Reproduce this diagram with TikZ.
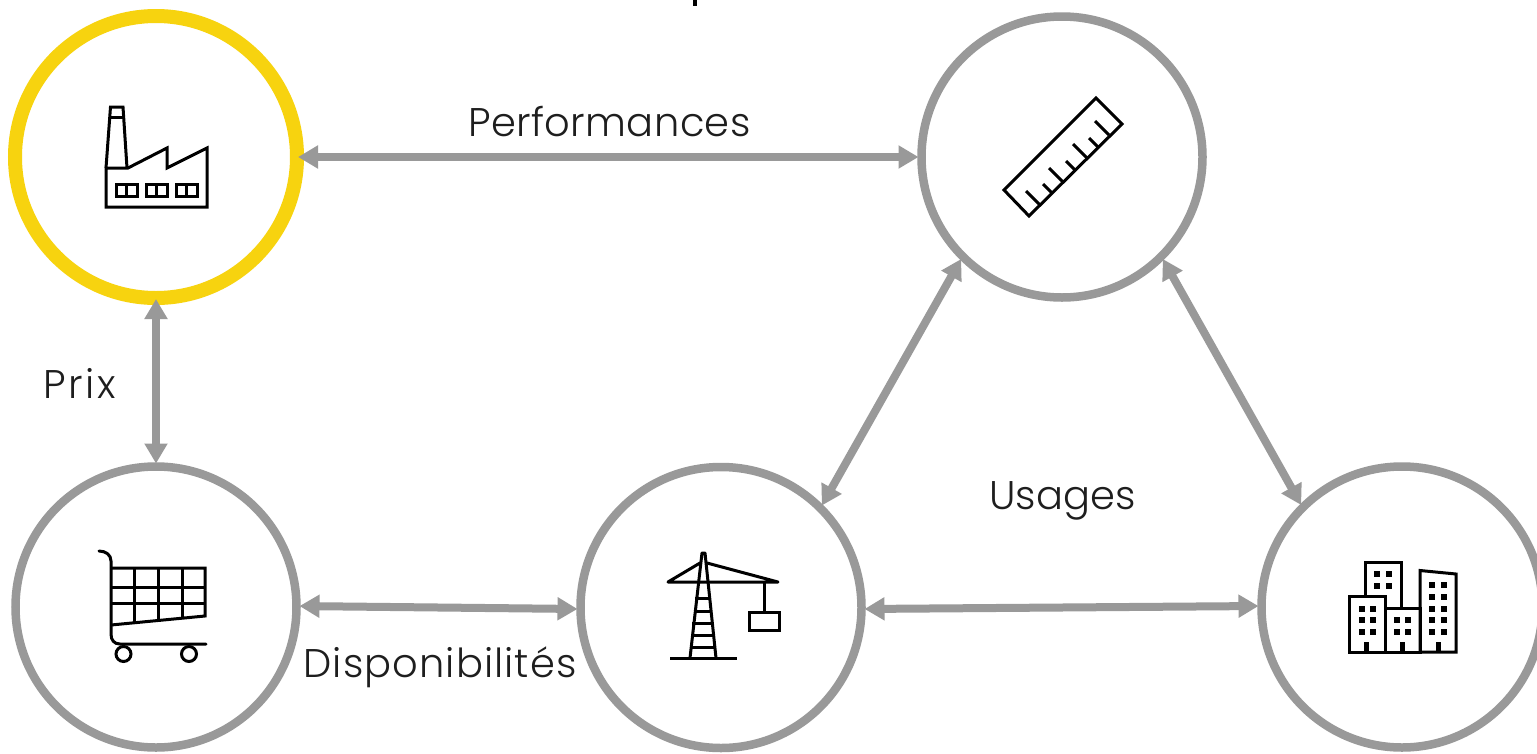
\documentclass[tikz,border=0pt]{standalone}
\usepackage{fontspec}
\setmainfont{Poppins Light}
\usetikzlibrary{arrows.meta}
\definecolor{ringgrey}{HTML}{999999}
\definecolor{ringyellow}{HTML}{F7D30F}
\definecolor{labelink}{HTML}{1E1E1E}
\tikzset{
  ring/.style={circle,draw=ringgrey,line width=8.5pt,minimum size=281pt,inner sep=0pt,outer sep=0pt},
  yellowring/.style={circle,draw=ringyellow,line width=14pt,minimum size=282pt,inner sep=0pt,outer sep=0pt},
  link/.style={draw=ringgrey,line width=8pt,{Triangle[length=20pt,width=22pt]}-{Triangle[length=20pt,width=22pt]},shorten <=3pt,shorten >=3pt},
  lab/.style={anchor=base,text=labelink,font=\fontsize{40}{46}\selectfont,inner sep=0pt},
  icon/.style={draw=black,line width=3pt,line join=miter},
  win/.style={fill=black,draw=none},
}
\begin{document}
\begin{tikzpicture}[x=1pt,y=-1pt]
\useasboundingbox (0,0) rectangle (1537,753);
\fill[white] (0,0) rectangle (1537,753);
\clip (0,0) rectangle (1537,753);
\draw[black,line width=4pt] (695,0) -- (695,6);

\node[yellowring] (factory) at (156,157) {};
\node[ring] (ruler) at (1062,157) {};
\node[ring] (cart) at (156,607) {};
\node[ring] (crane) at (721,607.5) {};
\node[ring] (city) at (1402,607) {};

\draw[link,shorten <=1pt] (factory.east) -- (ruler.west);
\draw[link,shorten <=1pt] (factory.south) -- (cart.north);
\draw[link] ([yshift=1pt]cart.east) -- ([yshift=-1.5pt]crane.west);
\draw[link] ([yshift=-1.5pt]crane.east) -- ([yshift=1pt]city.west);
\draw[link] (ruler.225) -- (crane.45);
\draw[link] (ruler.315) -- (city.135);

\node[lab] (lperf) at (609.5,136) {\addfontfeature{LetterSpace=0.9}Performances};
\node[lab] (lprix) at (79.5,398) {\addfontfeature{LetterSpace=6}Prix};
\node[lab] (ldisp) at (440,677) {\addfontfeature{LetterSpace=2.7}Disponibilités};
\node[lab] (lusag) at (1062.5,509) {Usages};

% factory icon
\draw[icon] (106,168) -- (106,207) -- (207,207) -- (207,148) -- (167,168) -- (167,148) -- (128,168) -- cycle;
\draw[icon] (106,168) -- (110.5,107) -- (123,107) -- (127,168);
\draw[icon] (109.5,117) -- (124,117);
\foreach \a in {116,146,176}{
  \draw[icon] (\a,184) rectangle (\a+21,196);
  \draw[icon] (\a+10.5,184) -- (\a+10.5,196);
}

% ruler icon
\draw[icon] (1096,98) -- (1122,124) -- (1029,216) -- (1004,190) -- cycle;
\draw[icon] (1040,205) -- (1026,191);
\draw[icon] (1052,193) -- (1043,184);
\draw[icon] (1063,182) -- (1049,168);
\draw[icon] (1075,170) -- (1066,161);
\draw[icon] (1087,158) -- (1073,144);
\draw[icon] (1098,147) -- (1089,138);
\draw[icon] (1109,135) -- (1095,121);

% cart icon
\draw[icon,line cap=round] (99,551) .. controls (106,551) and (111,555) .. (111,561) -- (111,634) .. controls (111,640) and (114,644) .. (120,644) -- (206,644);
\draw[icon] (111,568) -- (205,568) -- (205,616) -- (111,625);
\draw[icon] (111,587) -- (205,587);
\draw[icon] (111,603) -- (205,603);
\draw[icon] (134,568) -- (134,623);
\draw[icon] (158,568) -- (158,621);
\draw[icon] (182,568) -- (182,618);
\draw[icon] (123.5,654) circle (7.5);
\draw[icon] (189,654) circle (7.5);

% crane icon
\draw[icon] (670,658) -- (737,658);
\draw[icon,line join=round] (690,658) -- (702,553) -- (705,553) -- (716,658);
\draw[icon,line join=round,line cap=round] (700,563) -- (668,582) -- (778,582) -- (707,563);
\draw[icon] (695,598) -- (711,598);
\draw[icon] (693.5,611) -- (712,611);
\draw[icon] (692,623) -- (713,623);
\draw[icon] (691,635) -- (714,635);
\draw[icon] (690,647) -- (715,647);
\draw[icon] (764,582) -- (764,612);
\draw[icon] (749,612) rectangle (779,630);

% city icon
\draw[icon] (1365,596) -- (1365,562) -- (1401,562) -- (1401,608);
\draw[icon] (1349,596) rectangle (1385,652);
\draw[icon] (1385,608) rectangle (1420,652);
\draw[icon] (1420,652) -- (1420,570.5) -- (1456,574) -- (1456,652) -- cycle;
\foreach \a in {1362,1398,1434}{\fill[win] (\a+2,642) rectangle (\a+7,652);}
\foreach \a in {1377,1389}\foreach \b in {574,586}{\fill[win] (\a-3,\b-3) rectangle (\a+3,\b+3);}
\foreach \a in {1362,1373}\foreach \b in {609,620,632}{\fill[win] (\a-3,\b-3) rectangle (\a+3,\b+3);}
\foreach \a in {1397,1408}\foreach \b in {620,632}{\fill[win] (\a-3,\b-3) rectangle (\a+3,\b+3);}
\foreach \a in {1432,1444}\foreach \b in {585,597,609,620,632}{\fill[win] (\a-3,\b-3) rectangle (\a+3,\b+3);}
\end{tikzpicture}
\end{document}
